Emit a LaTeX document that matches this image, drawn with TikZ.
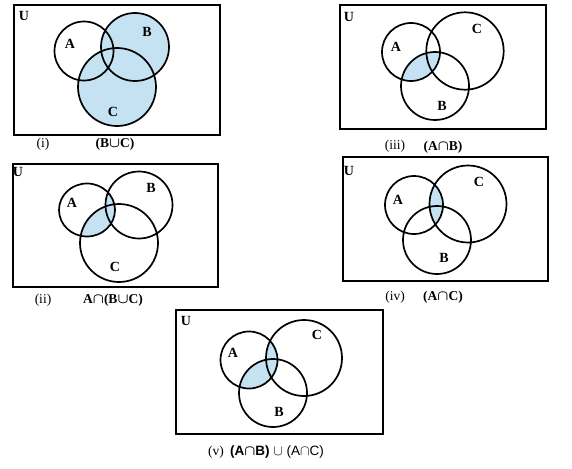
\documentclass[tikz,border=0pt]{standalone}
\usepackage{amsmath}
\usepackage{fontspec}
\setmainfont{Liberation Serif}
\newfontfamily\capsans{Liberation Sans}
\usetikzlibrary{positioning}
\definecolor{setblue}{RGB}{196,226,241}

\begin{document}
\begin{tikzpicture}[x=1pt, y=-1pt,
  frame/.style={line width=1.8pt},
  ring/.style={line width=1.7pt},
  lab/.style={font=\fontsize{14}{14}\selectfont\bfseries, inner sep=0pt},
  uni/.style={font=\fontsize{14}{14}\selectfont\bfseries, inner sep=0pt},
  num/.style={font=\fontsize{13.5}{13.5}\selectfont, inner sep=0pt},
  setcap/.style={font=\fontsize{13.5}{13.5}\selectfont\bfseries, inner sep=0pt}]
\useasboundingbox (0,0) rectangle (572,468);

% (i) B union C
\fill[setblue] (135,47) circle (34pt) (117,87) circle (39pt);
\draw[frame] (14,5) rectangle (220,135);
\draw[ring] (84,51) circle (29.5pt) (135,47) circle (34pt) (117,87) circle (39pt);
\node[uni] (Ui) at (24,16) {U};
\node[lab] (Ai) at (70,44) {A};
\node[lab] (Bi) at (147,32) {B};
\node[lab] (Ci) at (113,112) {C};
\node[num] (ni) at (43,144) {(i)};
\node[setcap] (capi) at (115,144) {(B$\boldsymbol{\cup}$C)};

% (ii) A intersect (B union C)
\begin{scope}
  \clip (87,210) ellipse (28pt and 26.5pt);
  \fill[setblue] (139,205) circle (33.5pt) (119,243) circle (39pt);
\end{scope}
\draw[frame] (13,164) rectangle (218,287);
\draw[ring] (87,210) ellipse (28pt and 26.5pt) (139,205) circle (33.5pt) (119,243) circle (39pt);
\node[uni] (Uii) at (18,172) {U};
\node[lab] (Aii) at (72,203) {A};
\node[lab] (Bii) at (151,188) {B};
\node[lab] (Cii) at (115,267) {C};
\node[num] (nii) at (43,300) {(ii)};
\node[setcap] (capii) at (113,300) {A$\boldsymbol{\cap}$(B$\boldsymbol{\cup}$C)};

% (iii) A intersect B
\begin{scope}
  \clip (411,52) circle (29pt);
  \fill[setblue] (435,86) circle (34pt);
\end{scope}
\draw[frame] (340,5) rectangle (546,129);
\draw[ring] (411,52) circle (29pt) (465,51) circle (38.7pt) (435,86) circle (34pt);
\node[uni] (Uiii) at (349,17) {U};
\node[lab] (Aiii) at (396,47) {A};
\node[lab] (Ciii) at (477,29) {C};
\node[lab] (Biii) at (442,106) {B};
\node[num] (niii) at (395,146) {(iii)};
\node[setcap] (capiii) at (443,147) {(A$\boldsymbol{\cap}$B)};

% (iv) A intersect C
\begin{scope}
  \clip (414,205) circle (29pt);
  \fill[setblue] (468,204) circle (38.5pt);
\end{scope}
\draw[frame] (343,157) rectangle (548,281);
\draw[ring] (414,205) circle (29pt) (468,204) circle (38.5pt) (437,240) circle (34pt);
\node[uni] (Uiv) at (349,171) {U};
\node[lab] (Aiv) at (398,200) {A};
\node[lab] (Civ) at (479,182) {C};
\node[lab] (Biv) at (444,258) {B};
\node[num] (niv) at (395,297) {(iv)};
\node[setcap] (capiv) at (443,297) {(A$\boldsymbol{\cap}$C)};

% (v) (A intersect B) union (A intersect C)
\begin{scope}
  \clip (249,360) circle (28.5pt);
  \fill[setblue] (273,393) circle (34pt) (304,358) circle (38pt);
\end{scope}
\draw[frame] (176,310) rectangle (383,434);
\draw[ring] (249,360) circle (28.5pt) (304,358) circle (38pt) (273,393) circle (34pt);
\node[uni] (Uv) at (186,321) {U};
\node[lab] (Av) at (233,353) {A};
\node[lab] (Cv) at (317,335) {C};
\node[lab] (Bv) at (279,412) {B};
\node[num] (nv) at (216,452) {(v)};
\node[setcap, font=\fontsize{13.5}{13.5}\selectfont\capsans] (capv) at (277,452)
  {\textbf{(A$\boldsymbol{\cap}$B)} $\cup$ (A$\cap$C)};
\end{tikzpicture}
\end{document}
